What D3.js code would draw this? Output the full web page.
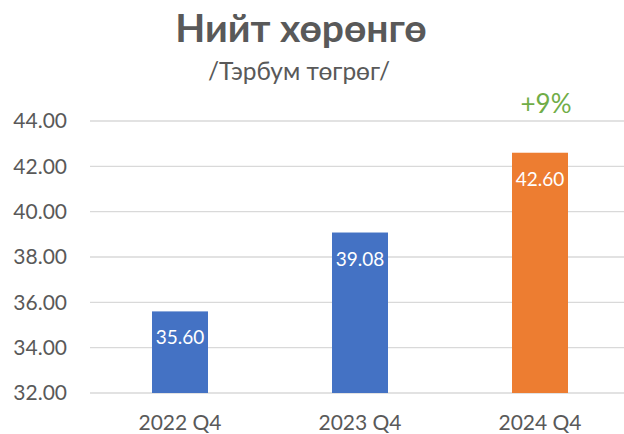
<!DOCTYPE html>
<html><head><meta charset="utf-8">
<script src="https://cdn.jsdelivr.net/npm/d3@7"></script>
<style>body{margin:0;background:#fff;} svg{display:block;font-family:Lato,"Open Sans",sans-serif;}</style>
</head><body>
<svg id="c" width="624" height="434"></svg>
<script>
const categories = ["2022 Q4", "2023 Q4", "2024 Q4"];
const values = [35.60, 39.08, 42.60];
const barColors = ["#4472C4", "#4472C4", "#ED7D31"];
const tickValues = [32, 34, 36, 38, 40, 42, 44];
const title = "Нийт хөрөнгө";
const subtitle = "/Тэрбум төгрөг/";
const growthLabel = "+9%";

const svg = d3.select("#c");
const x = d3.scaleBand().domain(categories).range([90, 630]).paddingInner(0.69).paddingOuter(0.345);
const y = d3.scaleLinear().domain([32, 44]).range([393, 121]);

// gridlines
svg.append("g").selectAll("line").data(tickValues).join("line")
  .attr("x1", 90).attr("x2", 624)
  .attr("y1", d => y(d)).attr("y2", d => y(d))
  .attr("stroke", "#d9d9d9").attr("stroke-width", 1.3);

// y axis
const yAxis = d3.axisLeft(y).tickValues(tickValues).tickFormat(d3.format(".2f")).tickSize(0).tickPadding(0);
const ga = svg.append("g").attr("transform", "translate(67,0)").call(yAxis);
ga.select(".domain").remove();
ga.selectAll("text").attr("fill", "#595959").attr("font-size", 21).attr("font-family", "Lato");

// bars
const bw = 56;
svg.append("g").selectAll("rect").data(values).join("rect")
  .attr("x", (d, i) => x(categories[i]) + x.bandwidth() / 2 - bw / 2)
  .attr("width", bw)
  .attr("y", d => y(d)).attr("height", d => y(32) - y(d))
  .attr("fill", (d, i) => barColors[i]);

// bar labels
svg.append("g").selectAll("text").data(values).join("text")
  .attr("x", (d, i) => x(categories[i]) + x.bandwidth() / 2)
  .attr("y", d => y(d) + 33)
  .attr("text-anchor", "middle").attr("fill", "#fff").attr("font-size", 19)
  .text(d => d3.format(".2f")(d));

// x axis
const xAxis = d3.axisBottom(x).tickSize(0).tickPadding(0);
const gx = svg.append("g").attr("transform", "translate(0,430)").call(xAxis);
gx.select(".domain").remove();
gx.selectAll("text").attr("fill", "#595959").attr("font-size", 21).attr("font-family", "Lato").attr("dy", "0");

// titles
svg.append("text").attr("x", 301).attr("y", 42).attr("text-anchor", "middle")
  .attr("font-size", 39).attr("font-weight", "bold").attr("fill", "#595959").text(title);
svg.append("text").attr("x", 299).attr("y", 80).attr("text-anchor", "middle")
  .attr("font-size", 24.5).attr("fill", "#595959").text(subtitle);

// growth
svg.append("text").attr("x", x(categories[2]) + x.bandwidth() / 2 + 6).attr("y", 113).attr("text-anchor", "middle")
  .attr("font-size", 26).attr("fill", "#70AD47").text(growthLabel);
</script>
</body></html>
